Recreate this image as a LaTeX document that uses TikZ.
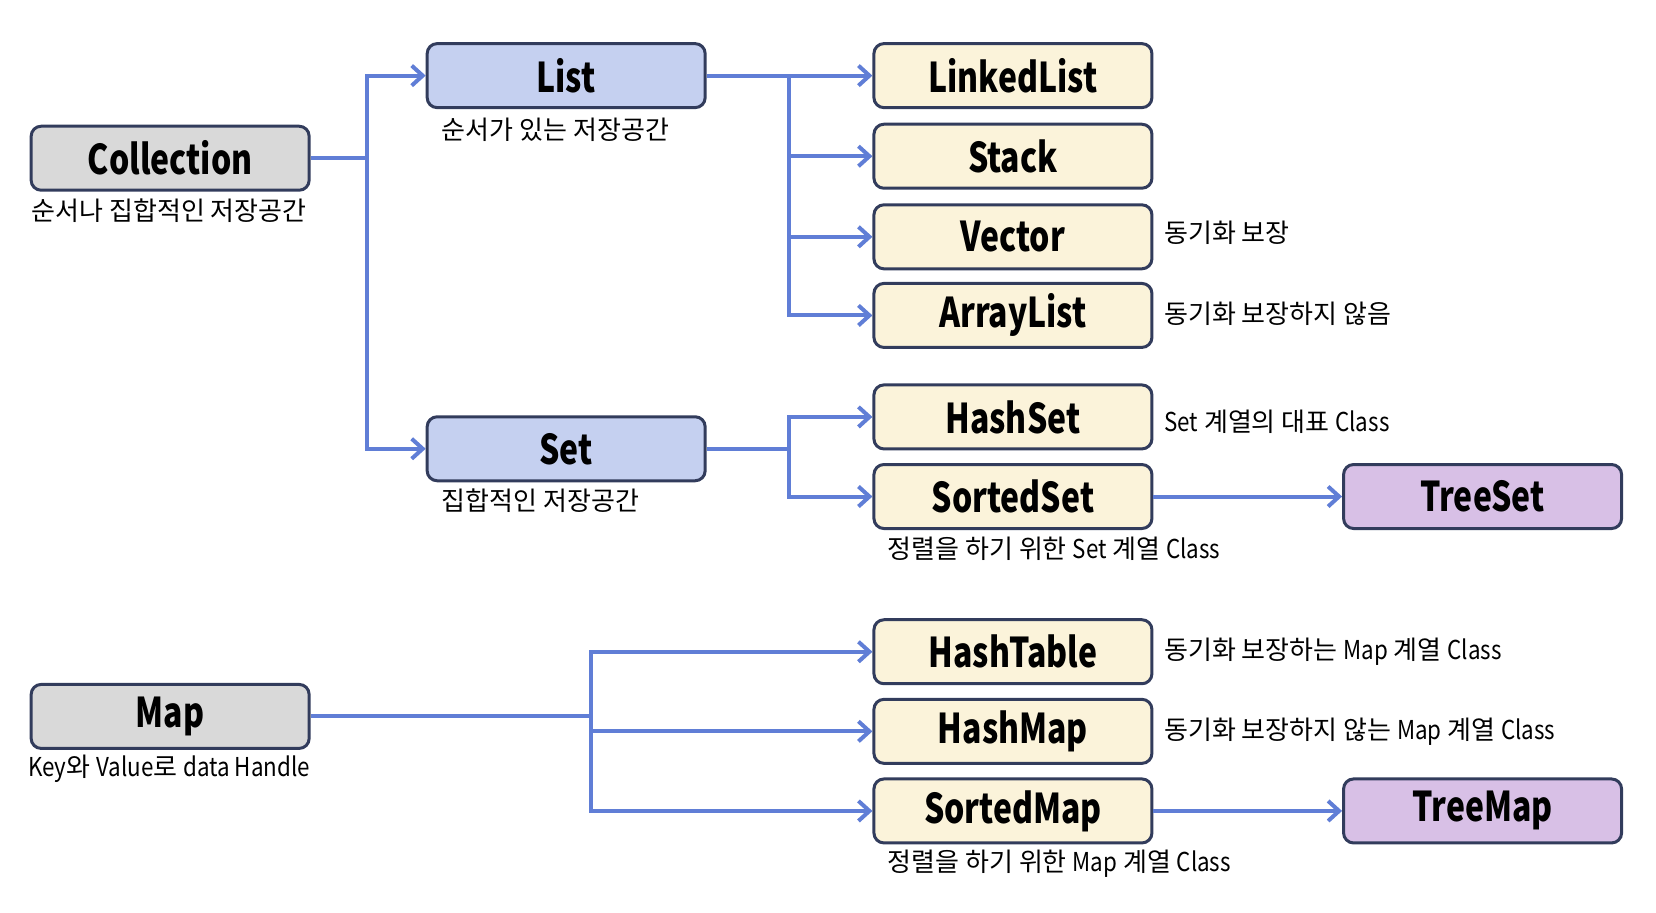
\documentclass[tikz,border=0pt]{standalone}
\usepackage{fontspec}
\setmainfont{Noto Sans CJK KR}
\newfontfamily\boxfont{Noto Sans CJK KR}[FakeStretch=0.78]
\newfontfamily\latnfont{Noto Sans CJK KR}[FakeStretch=0.86]
\newcommand{\latn}[1]{{\latnfont #1}}
\usetikzlibrary{arrows.meta}
\definecolor{edgeblue}{RGB}{96,126,214}
\definecolor{boxline}{RGB}{50,60,92}
\definecolor{grayfill}{RGB}{217,217,217}
\definecolor{bluefill}{RGB}{197,208,240}
\definecolor{creamfill}{RGB}{251,243,218}
\definecolor{purplefill}{RGB}{216,192,230}
\tikzset{
  box/.style={draw=boxline, line width=3pt, rounded corners=10pt,
    minimum width=278pt, minimum height=64pt, inner sep=0pt,
    font=\boxfont\bfseries\fontsize{41}{41}\selectfont},
  rootbox/.style={box, fill=grayfill},
  groupbox/.style={box, fill=bluefill},
  classbox/.style={box, fill=creamfill},
  leafbox/.style={box, fill=purplefill},
  note/.style={font=\fontsize{26}{26}\selectfont, inner sep=0pt},
  conn/.style={draw=edgeblue, line width=4pt,
    -{Straight Barb[length=11pt,width=20pt]}},
  link/.style={draw=edgeblue, line width=4pt}
}
\begin{document}
\begin{tikzpicture}[x=0.995pt,y=-0.995pt]
            \useasboundingbox (0,0) rectangle (1664.3,916.6);
            % main boxes
            \node[rootbox] (collection) at (171,159) {Collection};
            \node[rootbox] (map) at (171,720) {Map};
            \node[groupbox] (list) at (569,76) {List};
            \node[groupbox] (set) at (569,451) {Set};
            \node[classbox] (linkedlist) at (1018,76) {LinkedList};
            \node[classbox] (stack) at (1018,157) {Stack};
            \node[classbox] (vector) at (1018,238) {Vector};
            \node[classbox] (arraylist) at (1018,317) {ArrayList};
            \node[classbox] (hashset) at (1018,419) {HashSet};
            \node[classbox] (sortedset) at (1018,499) {SortedSet};
            \node[classbox] (hashtable) at (1018,655) {HashTable};
            \node[classbox] (hashmap) at (1018,735) {HashMap};
            \node[classbox] (sortedmap) at (1018,815) {SortedMap};
            \node[leafbox] (treeset) at (1490,499) {TreeSet};
            \node[leafbox] (treemap) at (1490,815) {TreeMap};
            % labels
            \node[note] (lcollection) at (170,212) {순서나 집합적인 저장공간};
            \node[note, anchor=west] (llist) at (444,130) {순서가 있는 저장공간};
            \node[note, anchor=west] (lset) at (444,503) {집합적인 저장공간};
            \node[note] (lmap) at (170,773) {\latn{Key}와 \latn{Value}로 \latn{data Handle}};
            \node[note, anchor=west] (lvector) at (1170,234) {동기화 보장};
            \node[note, anchor=west] (larraylist) at (1170,315) {동기화 보장하지 않음};
            \node[note, anchor=west] (lhashset) at (1170,424) {\latn{Set} 계열의 대표 \latn{Class}};
            \node[note, anchor=west] (lsortedset) at (892,552) {정렬을 하기 위한 \latn{Set} 계열 \latn{Class}};
            \node[note, anchor=west] (lhashtable) at (1170,655) {동기화 보장하는 \latn{Map} 계열 \latn{Class}};
            \node[note, anchor=west] (lhashmap) at (1170,735) {동기화 보장하지 않는 \latn{Map} 계열 \latn{Class}};
            \node[note, anchor=west] (lsortedmap) at (892,868) {정렬을 하기 위한 \latn{Map} 계열 \latn{Class}};
            % trunks
            \coordinate (ctrunk) at (369,159);
            \coordinate (ltrunk) at (793,76);
            \coordinate (strunk) at (793,451);
            \coordinate (mtrunk) at (594,720);
            \draw[link] (collection) -- (ctrunk);
            \draw[conn] (ctrunk) |- (list);
            \draw[conn] (ctrunk) |- (set);
            \draw[link] (list) -- (ltrunk);
            \draw[conn] (ltrunk) -- (linkedlist);
            \draw[conn] (ltrunk) |- (stack);
            \draw[conn] (ltrunk) |- (vector);
            \draw[conn] (ltrunk) |- (arraylist);
            \draw[link] (set) -- (strunk);
            \draw[conn] (strunk) |- (hashset);
            \draw[conn] (strunk) |- (sortedset);
            \draw[link] (map) -- (mtrunk);
            \draw[conn] (mtrunk) |- (hashtable);
            \draw[conn] (mtrunk) |- (hashmap);
            \draw[conn] (mtrunk) |- (sortedmap);
            \draw[conn] (sortedset) -- (treeset);
            \draw[conn] (sortedmap) -- (treemap);
\end{tikzpicture}
\end{document}
